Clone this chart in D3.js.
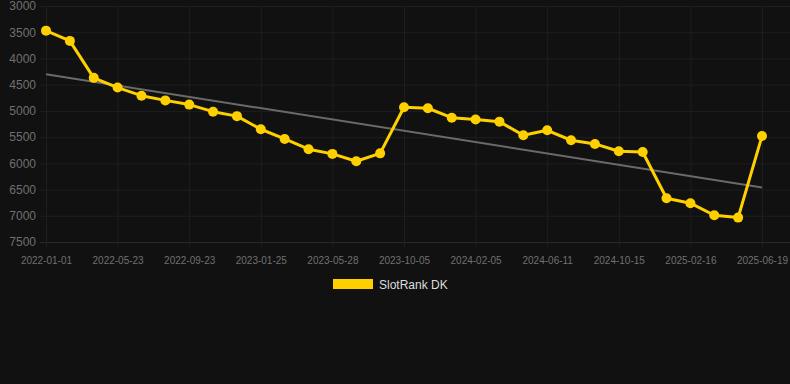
<!DOCTYPE html>
<html>
<head>
<meta charset="utf-8">
<script src="https://cdn.jsdelivr.net/npm/d3@7"></script>
<style>
  body { margin: 0; background: #111111; }
  svg { display: block; }
</style>
</head>
<body>
<svg id="chart"></svg>
<script>
// dates along the x axis (only every third one is shown as a label)
let dates = [
    '2022-01-01', '2022-02-17', '2022-04-05', '2022-05-23', '2022-07-03', '2022-08-13',
    '2022-09-23', '2022-11-03', '2022-12-14', '2023-01-25', '2023-03-06', '2023-04-16',
    '2023-05-28', '2023-07-10', '2023-08-23', '2023-10-05', '2023-11-15', '2023-12-26',
    '2024-02-05', '2024-03-17', '2024-04-29', '2024-06-11', '2024-07-23', '2024-09-02',
    '2024-10-15', '2024-11-25', '2025-01-05', '2025-02-16', '2025-03-28', '2025-05-09',
    '2025-06-19'
];
let rankValues = [
    3470, 3665, 4370, 4555, 4710, 4800, 4880, 5015, 5100, 5350, 5535,
    5730, 5820, 5960, 5810, 4930, 4950, 5130, 5165, 5205, 5465, 5370,
    5560, 5630, 5770, 5785, 6665, 6760, 6990, 7035, 5480
];
// trend line values at the first and last date
let trendValues = [4300, 6460];
let yTicks = [3000, 3500, 4000, 4500, 5000, 5500, 6000, 6500, 7000, 7500];
let seriesName = 'SlotRank DK';

let width = 790;
let height = 384;
let lineColor = '#ffd000';
let gridColor = '#1e1e1e';
let labelColor = '#707070';

let svg = d3.select('#chart')
    .attr('width', width)
    .attr('height', height);

svg.append('rect')
    .attr('width', width)
    .attr('height', height)
    .attr('fill', '#111111');

let xScale = d3.scalePoint()
    .domain(dates)
    .range([46, 762]);

let yScale = d3.scaleLinear()
    .domain([3000, 7500])
    .range([6, 242]);

// horizontal grid + y labels
let yAxis = d3.axisLeft(yScale)
    .tickValues(yTicks)
    .tickSize(-(width - 40))
    .tickPadding(4)
    .tickFormat(d3.format('d'));

let yg = svg.append('g')
    .attr('transform', 'translate(40,0)')
    .call(yAxis);
yg.select('.domain').remove();
yg.selectAll('.tick line').attr('stroke', function (d) {
    return d === 7500 ? '#2a2a2a' : gridColor;
});
yg.selectAll('.tick text')
    .attr('fill', labelColor)
    .style('font-family', 'Helvetica, Arial, sans-serif')
    .style('font-size', '12px');

// vertical grid + x labels
let shownDates = dates.filter(function (d, i) {
    return i % 3 === 0;
});
let xAxis = d3.axisBottom(xScale)
    .tickValues(shownDates)
    .tickSize(-242)
    .tickPadding(12);

let xg = svg.append('g')
    .attr('transform', 'translate(0,248)')
    .call(xAxis);
xg.select('.domain').remove();
xg.selectAll('.tick line').attr('stroke', gridColor);
xg.selectAll('.tick text')
    .attr('fill', labelColor)
    .attr('dy', '0.35em')
    .style('font-family', 'Helvetica, Arial, sans-serif')
    .style('font-size', '10px');

// trend line
svg.append('line')
    .attr('x1', xScale(dates[0]))
    .attr('y1', yScale(trendValues[0]))
    .attr('x2', xScale(dates[dates.length - 1]))
    .attr('y2', yScale(trendValues[1]))
    .attr('stroke', '#6a6a6a')
    .attr('stroke-width', 2);

// data line
let line = d3.line()
    .x(function (d, i) {
        return xScale(dates[i]);
    })
    .y(function (d) {
        return yScale(d);
    });

svg.append('path')
    .datum(rankValues)
    .attr('d', line)
    .attr('fill', 'none')
    .attr('stroke', lineColor)
    .attr('stroke-width', 3)
    .attr('stroke-linejoin', 'round');

svg.selectAll('circle.pt')
    .data(rankValues)
    .enter()
    .append('circle')
    .attr('class', 'pt')
    .attr('cx', function (d, i) {
        return xScale(dates[i]);
    })
    .attr('cy', function (d) {
        return yScale(d);
    })
    .attr('r', 5)
    .attr('fill', lineColor);

// legend
let legend = svg.append('g').attr('transform', 'translate(333,279)');
legend.append('rect')
    .attr('width', 40)
    .attr('height', 10)
    .attr('fill', lineColor);
legend.append('text')
    .attr('x', 46)
    .attr('y', 9.5)
    .attr('fill', '#dddddd')
    .style('font-family', 'Helvetica, Arial, sans-serif')
    .style('font-size', '12px')
    .text(seriesName);
</script>
</body>
</html>
